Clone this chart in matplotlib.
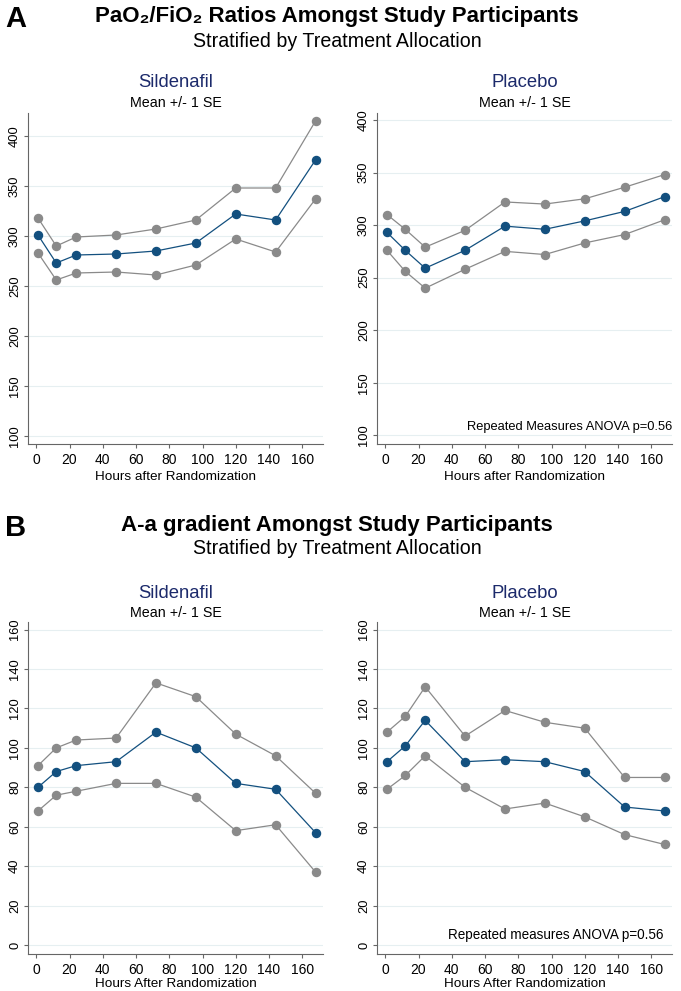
import matplotlib
matplotlib.use("Agg")
import matplotlib.pyplot as plt

plt.rcParams['font.family'] = ['Liberation Sans', 'DejaVu Sans']

hours = [1, 12, 24, 48, 72, 96, 120, 144, 168]

# PaO2/FiO2 - Sildenafil
pf_sil_upper = [318, 290, 299, 301, 307, 316, 348, 348, 415]
pf_sil_mean = [301, 273, 281, 282, 285, 293, 322, 316, 376]
pf_sil_lower = [283, 256, 263, 264, 261, 271, 297, 284, 337]

# PaO2/FiO2 - Placebo
pf_pla_upper = [310, 296, 279, 295, 322, 320, 325, 336, 348]
pf_pla_mean = [293, 276, 259, 276, 299, 296, 304, 313, 327]
pf_pla_lower = [276, 256, 240, 258, 275, 272, 283, 291, 305]

# A-a gradient - Sildenafil
aa_sil_upper = [91, 100, 104, 105, 133, 126, 107, 96, 77]
aa_sil_mean = [80, 88, 91, 93, 108, 100, 82, 79, 57]
aa_sil_lower = [68, 76, 78, 82, 82, 75, 58, 61, 37]

# A-a gradient - Placebo
aa_pla_upper = [108, 116, 131, 106, 119, 113, 110, 85, 85]
aa_pla_mean = [93, 101, 114, 93, 94, 93, 88, 70, 68]
aa_pla_lower = [79, 86, 96, 80, 69, 72, 65, 56, 51]

W, H = 681, 991
fig = plt.figure(figsize=(W / 100, H / 100), dpi=100)

blue = '#13507f'
grey = '#8a8a8a'
navy = '#1c2a6b'
axcol = '#666666'


def fy(px):
    return 1 - px / H


def draw_panel(left, top, bottom, upper, mean, lower, ylim, yticks, xlabel,
               labelpad=3, note=None, note_x=None, note_y=None, note_size=9.3):
    ax = fig.add_axes([left / W, 1 - bottom / H, 295 / W, (bottom - top) / H])
    ax.plot(hours, upper, color=grey, lw=0.9, marker='o', ms=5.8, zorder=3)
    ax.plot(hours, lower, color=grey, lw=0.9, marker='o', ms=5.8, zorder=3)
    ax.plot(hours, mean, color=blue, lw=0.9, marker='o', ms=5.8, zorder=4)
    ax.set_xlim(-5, 172.5)
    ax.set_ylim(*ylim)
    ax.set_xticks(range(0, 161, 20))
    ax.set_yticks(yticks)
    for y in yticks:
        ax.axhline(y, color='#e6eff1', lw=0.8, zorder=1)
    for s in ['top', 'right']:
        ax.spines[s].set_visible(False)
    for s in ['left', 'bottom']:
        ax.spines[s].set_color(axcol)
        ax.spines[s].set_linewidth(0.8)
    ax.tick_params(axis='x', colors=axcol, labelcolor='black', labelsize=10, length=3, width=0.8, pad=3.5)
    ax.tick_params(axis='y', colors=axcol, labelcolor='black', labelsize=9.3, length=3, width=0.8, pad=2)
    for lab in ax.get_yticklabels():
        lab.set_rotation(90)
        lab.set_va('center')
    ax.set_xlabel(xlabel, fontsize=9.7, labelpad=labelpad)
    if note:
        ax.text(note_x, note_y, note, fontsize=note_size, ha='right', va='center',
                transform=fig.transFigure)
    return ax


# ---------- Panel A ----------
fig.text(5 / W, fy(27), 'A', fontsize=21, fontweight='bold', va='baseline')
fig.text(337 / W, fy(22), 'PaO\u2082/FiO\u2082 Ratios Amongst Study Participants',
         fontsize=16, fontweight='bold', ha='center', va='baseline')
fig.text(337 / W, fy(47), 'Stratified by Treatment Allocation', fontsize=14.1,
         ha='center', va='baseline')

draw_panel(28, 113, 444, pf_sil_upper, pf_sil_mean, pf_sil_lower,
           (92, 423), range(100, 401, 50), 'Hours after Randomization')
draw_panel(377, 113, 444, pf_pla_upper, pf_pla_mean, pf_pla_lower,
           (91.8, 406.6), range(100, 401, 50), 'Hours after Randomization',
           note='Repeated Measures ANOVA p=0.56', note_x=672 / W, note_y=fy(427))

for cx, name in [(175.5, 'Sildenafil'), (524.5, 'Placebo')]:
    fig.text(cx / W, fy(87), name, fontsize=13.3, color=navy, ha='center', va='baseline')
    fig.text(cx / W, fy(107), 'Mean +/- 1 SE', fontsize=10.3, ha='center', va='baseline')

# ---------- Panel B ----------
fig.text(5 / W, fy(536), 'B', fontsize=21, fontweight='bold', va='baseline')
fig.text(337 / W, fy(531), 'A-a gradient Amongst Study Participants',
         fontsize=16, fontweight='bold', ha='center', va='baseline')
fig.text(337 / W, fy(554), 'Stratified by Treatment Allocation', fontsize=14.1,
         ha='center', va='baseline')

draw_panel(28, 622, 954, aa_sil_upper, aa_sil_mean, aa_sil_lower,
           (-4.6, 163.9), range(0, 161, 20), 'Hours After Randomization', labelpad=1)
draw_panel(377, 622, 954, aa_pla_upper, aa_pla_mean, aa_pla_lower,
           (-4.6, 163.9), range(0, 161, 20), 'Hours After Randomization', labelpad=1,
           note='Repeated measures ANOVA p=0.56', note_x=663 / W, note_y=fy(935),
           note_size=9.75)

for cx, name in [(175.5, 'Sildenafil'), (524.5, 'Placebo')]:
    fig.text(cx / W, fy(598), name, fontsize=13.3, color=navy, ha='center', va='baseline')
    fig.text(cx / W, fy(617), 'Mean +/- 1 SE', fontsize=10.3, ha='center', va='baseline')

fig.savefig('out.png', dpi=100, facecolor='white')
